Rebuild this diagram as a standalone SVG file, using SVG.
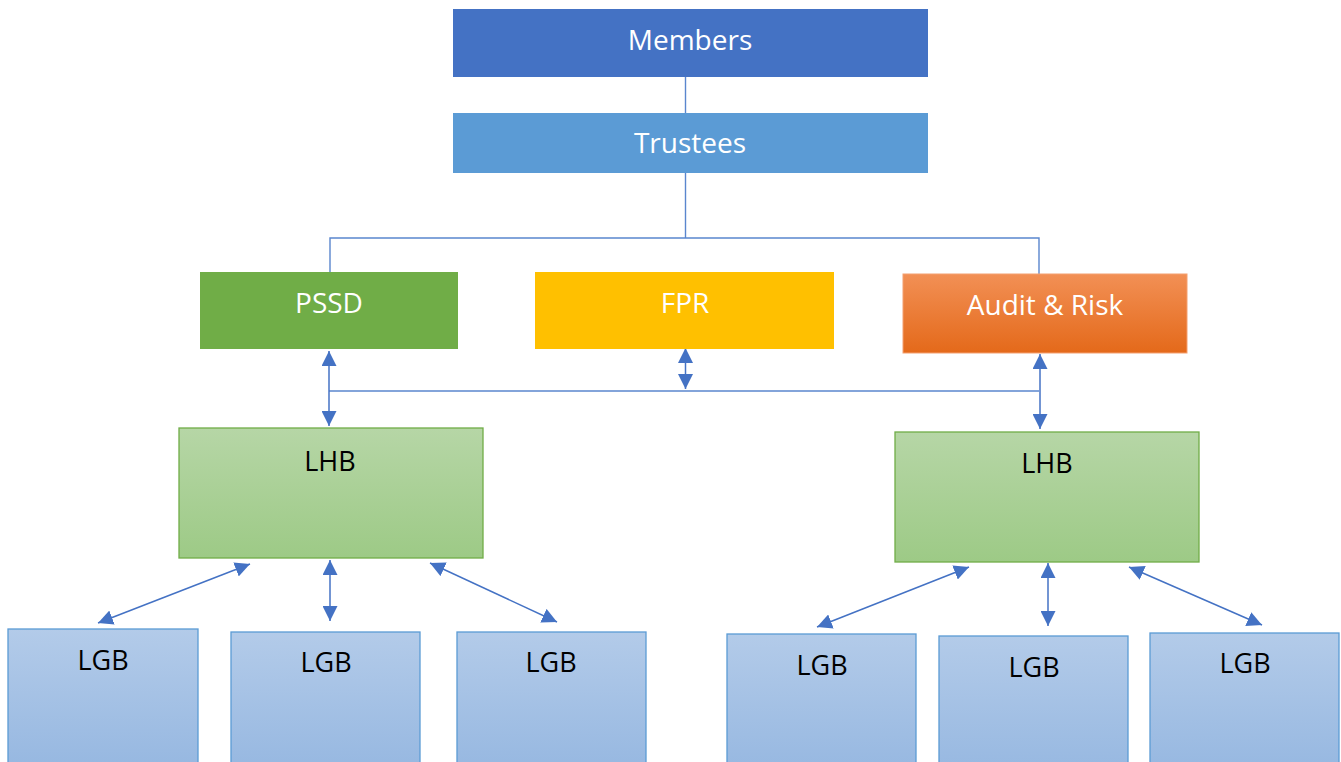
<svg xmlns="http://www.w3.org/2000/svg" width="1341" height="762" viewBox="0 0 1341 762">
<defs>
<linearGradient id="gOrange" x1="0" y1="0" x2="0" y2="1"><stop offset="0" stop-color="#F29055"/><stop offset="1" stop-color="#E4691A"/></linearGradient>
<linearGradient id="gGreen" x1="0" y1="0" x2="0" y2="1"><stop offset="0" stop-color="#B6D6A6"/><stop offset="1" stop-color="#9DCA86"/></linearGradient>
<linearGradient id="gBlue" x1="0" y1="0" x2="0" y2="1"><stop offset="0" stop-color="#B3CBE9"/><stop offset="1" stop-color="#94B6E0"/></linearGradient>
<marker id="arr" viewBox="0 0 15 15" refX="15" refY="7.5" markerWidth="15" markerHeight="15" markerUnits="userSpaceOnUse" orient="auto-start-reverse"><path d="M0,0 L15,7.5 L0,15 Z" fill="#4472C4"/></marker>
</defs>
<style>
.lbl{font-family:"Open Sans","Noto Sans",sans-serif;text-anchor:middle}
.w{fill:#FFFFFF;font-size:28px}
.k{fill:#000000;font-size:27px}
.line{fill:none;stroke:#5A86CE;stroke-width:1.4}
.dbl{fill:none;stroke:#4472C4;stroke-width:1.5;marker-start:url(#arr);marker-end:url(#arr)}
.lhb{fill:url(#gGreen);stroke:#70AD47;stroke-width:1.3}
.lgb{fill:url(#gBlue);stroke:#5B9BD5;stroke-width:1.3}
</style>
<g id="connectors">
<path class="line" d="M685.5,77 V113"/>
<path class="line" d="M685.5,173 V238"/>
<path class="line" d="M330,272 V238 H1039 V274"/>
<path class="line" d="M329,391 H1039"/>
<path class="dbl" d="M329,351 V426"/>
<path class="dbl" d="M685.5,348 V389"/>
<path class="dbl" d="M1040,354 V429"/>
<path class="dbl" d="M250,564 L98,623"/>
<path class="dbl" d="M330,560 V621"/>
<path class="dbl" d="M430,563 L557,622"/>
<path class="dbl" d="M969,567 L817,627"/>
<path class="dbl" d="M1048,563 V626"/>
<path class="dbl" d="M1129,567 L1262,625"/>
</g>
<g id="members"><rect x="453" y="9" width="475" height="68" fill="#4472C4"/><text class="lbl w" x="690" y="50">Members</text></g>
<g id="trustees"><rect x="453" y="113" width="475" height="60" fill="#5B9BD5"/><text class="lbl w" x="690" y="153">Trustees</text></g>
<g id="pssd"><rect x="200" y="272" width="258" height="77" fill="#70AD47"/><text class="lbl w" x="329" y="313">PSSD</text></g>
<g id="fpr"><rect x="535" y="272" width="299" height="77" fill="#FFC000"/><text class="lbl w" x="685" y="313">FPR</text></g>
<g id="audit"><rect x="903" y="274" width="284" height="79" fill="url(#gOrange)" stroke="#F4A070" stroke-width="1"/><text class="lbl w" x="1045" y="315">Audit &amp; Risk</text></g>
<g id="lhb1"><rect class="lhb" x="179" y="428" width="304" height="130"/><text class="lbl k" x="330" y="471">LHB</text></g>
<g id="lhb2"><rect class="lhb" x="895" y="432" width="304" height="130"/><text class="lbl k" x="1047" y="473">LHB</text></g>
<g id="lgb1"><rect class="lgb" x="8" y="629" width="190" height="150"/><text class="lbl k" x="103" y="670">LGB</text></g>
<g id="lgb2"><rect class="lgb" x="231" y="632" width="189" height="150"/><text class="lbl k" x="326" y="672">LGB</text></g>
<g id="lgb3"><rect class="lgb" x="457" y="632" width="189" height="150"/><text class="lbl k" x="551" y="672">LGB</text></g>
<g id="lgb4"><rect class="lgb" x="727" y="634" width="189" height="150"/><text class="lbl k" x="822" y="675">LGB</text></g>
<g id="lgb5"><rect class="lgb" x="939" y="636" width="189" height="150"/><text class="lbl k" x="1034" y="677">LGB</text></g>
<g id="lgb6"><rect class="lgb" x="1150" y="633" width="189" height="150"/><text class="lbl k" x="1245" y="673">LGB</text></g>
</svg>
